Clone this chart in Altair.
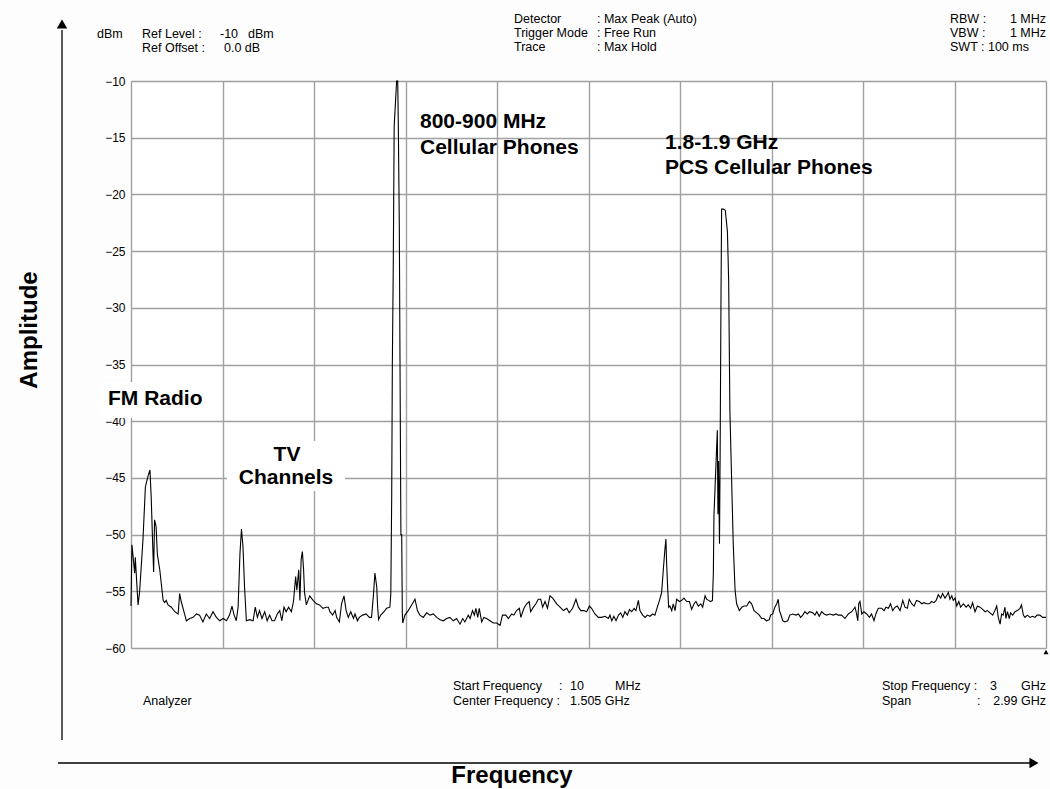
import altair as alt
import pandas as pd

# ---------------- data ----------------
freq_mhz = [
    10, 13, 17, 22, 24, 33, 38, 49, 57, 66, 72, 76, 81, 84, 87, 92, 96, 104, 115, 120,
    125, 131, 142, 153, 164, 169, 174, 183, 191, 202, 213, 224, 234, 245, 256, 267, 278, 289, 300, 311,
    322, 332, 340, 347, 354, 360, 366, 371, 376, 381, 387, 398, 409, 416, 423, 430, 438, 447, 455, 463,
    471, 479, 488, 496, 503, 510, 517, 525, 534, 541, 548, 552, 558, 562, 566, 570, 574, 577, 583, 594,
    605, 616, 626, 637, 648,
    655, 660, 669, 677, 682, 691, 698, 706, 713, 720, 728, 737, 742, 750, 756, 767, 778, 789, 796, 802,
    807, 813, 816, 819, 826, 837, 845, 856,
    859, 862, 864, 867, 870, 878, 881.5, 883.6, 886.8, 889, 892, 894.6, 896.6,
    898, 905, 916, 927, 938, 946, 954, 965, 976, 987, 998, 1009, 1020, 1031, 1041, 1052, 1063, 1074, 1085, 1094,
    1101, 1112, 1118, 1126, 1132, 1137, 1143, 1148, 1156, 1163, 1172, 1183, 1194, 1205, 1216, 1224, 1235, 1243, 1254, 1261,
    1270, 1279, 1284, 1294, 1303, 1311, 1316, 1325, 1333, 1341, 1349, 1355, 1363, 1371, 1379, 1388, 1401,
    1412, 1423, 1434, 1442, 1453, 1464, 1472, 1480, 1490, 1499, 1508, 1515, 1526, 1537, 1548, 1559, 1570, 1575, 1581, 1588,
    1595, 1603, 1610, 1617, 1624, 1632, 1639, 1646, 1654, 1660, 1668, 1673, 1682, 1690, 1697, 1706, 1715, 1722, 1730, 1737,
    1744, 1750, 1755, 1758, 1760, 1764, 1767, 1771, 1777, 1782, 1788, 1793, 1802, 1810, 1817, 1826, 1835, 1842, 1850, 1856,
    1864, 1872, 1878, 1886, 1891, 1897, 1904, 1910,
    1913, 1915, 1922, 1926, 1928, 1930, 1933, 1935, 1938, 1940, 1946, 1952, 1959, 1963, 1967, 1973, 1978, 1984, 1989, 1995,
    1998, 2006, 2013, 2022, 2031, 2038, 2046, 2055, 2063, 2071, 2078, 2087, 2096, 2100, 2107, 2114, 2120, 2125, 2129, 2133,
    2140, 2147, 2156, 2163, 2172, 2183, 2191, 2198, 2205, 2212, 2220, 2227,
    2238, 2245, 2251, 2259, 2267, 2275, 2283, 2294, 2305, 2314, 2321, 2332, 2343, 2354, 2365, 2376, 2381, 2385, 2388, 2392,
    2398, 2405, 2414, 2423, 2430, 2438, 2444, 2452, 2463, 2471, 2477, 2485, 2492, 2499, 2507, 2514, 2523, 2532, 2539, 2547,
    2553, 2561, 2569, 2577, 2586, 2594, 2601, 2610, 2619, 2626, 2634, 2641, 2648, 2656, 2662, 2670, 2675, 2681, 2686, 2692,
    2697, 2703, 2708, 2715, 2721, 2730, 2739, 2746, 2754, 2760, 2768, 2776, 2784, 2793, 2801, 2808, 2817, 2826, 2833, 2839,
    2844, 2850, 2855, 2860, 2866, 2869, 2874, 2880, 2884, 2891, 2899, 2906, 2915, 2920, 2926, 2931, 2939, 2948, 2956, 2964,
    2971, 2980, 2989, 3000,
]

level_dbm = [
    -56.3, -50.9, -52.0, -53.4, -52.0, -56.2, -55.1, -50.5, -45.8, -44.8, -44.3, -46.7, -51.0, -53.3, -48.7, -49.3, -51.7, -53.1, -55.8, -56.0,
    -55.8, -56.2, -56.4, -56.8, -57.0, -55.2, -55.9, -56.8, -57.6, -57.4, -57.3, -57.0, -57.1, -57.7, -57.0, -57.4, -56.8, -57.3, -57.6, -57.4,
    -57.6, -57.1, -56.3, -57.1, -57.6, -56.4, -51.7, -49.5, -51.1, -54.6, -57.6, -57.5, -57.6, -56.4, -57.3, -56.7, -57.4, -56.8, -57.6, -57.1,
    -57.6, -57.6, -57.0, -56.7, -57.6, -56.4, -56.8, -56.4, -56.8, -55.9, -53.7, -54.9, -53.1, -55.8, -52.2, -51.5, -53.1, -55.1, -56.2, -55.4,
    -55.8, -56.1, -56.2, -56.5, -56.4,
    -56.4, -56.8, -57.1, -56.7, -57.3, -57.7, -56.1, -55.4, -56.7, -57.3, -56.8, -57.4, -57.0, -57.6, -57.3, -57.1, -57.0, -57.3, -57.3, -55.4,
    -53.4, -54.6, -56.4, -57.5, -57.1, -56.8, -56.5, -56.4,
    -55.2, -46.4, -35.0, -26.4, -14.0, -10.0, -10.0, -14.0, -22.9, -34.6, -50.0, -50.0, -56.9,
    -57.8, -57.1, -56.7, -56.2, -55.7, -56.7, -57.1, -57.3, -56.9, -57.1, -57.0, -57.3, -57.5, -57.6, -57.4, -57.3, -57.6, -57.4, -57.9, -57.4,
    -57.7, -57.1, -57.4, -56.7, -57.1, -56.5, -57.3, -56.5, -57.7, -57.3, -57.4, -57.6, -57.8, -57.8, -58.0, -57.1, -57.1, -57.4, -57.0, -57.1,
    -56.7, -56.5, -57.3, -56.5, -56.1, -55.9, -56.8, -56.4, -56.1, -55.7, -55.7, -56.4, -55.9, -56.5, -55.4, -55.6, -56.1,
    -56.4, -56.7, -56.5, -56.9, -56.5, -55.7, -56.4, -56.7, -56.7, -56.8, -56.3, -56.5, -57.0, -57.3, -57.3, -57.2, -57.4, -57.1, -57.6, -57.2,
    -57.6, -57.1, -56.9, -57.3, -56.8, -57.1, -56.6, -56.8, -56.5, -56.7, -55.8, -56.7, -57.1, -57.3, -57.1, -57.2, -57.0, -57.1, -56.4, -55.8,
    -55.1, -52.9, -51.2, -50.4, -52.3, -54.9, -56.4, -56.3, -56.7, -56.1, -56.7, -55.7, -55.9, -55.8, -55.6, -55.9, -55.9, -56.6, -56.1, -55.9,
    -56.3, -56.1, -56.4, -55.4, -55.7, -55.8, -55.9, -55.8,
    -53.4, -48.3, -43.5, -40.8, -48.2, -43.5, -50.8, -43.5, -28.8, -21.3, -21.3, -21.4, -23.3, -27.6, -39.0, -45.5, -50.8, -54.9, -56.1, -56.5,
    -56.7, -56.4, -56.3, -56.3, -55.9, -56.1, -56.7, -56.9, -57.1, -57.4, -57.4, -57.6, -57.5, -57.1, -57.0, -56.4, -56.1, -55.7, -56.7, -57.0,
    -57.6, -57.7, -57.6, -57.1, -57.0, -57.1, -57.0, -57.3, -57.1, -56.8, -57.0, -56.8,
    -56.9, -57.1, -56.8, -57.2, -56.8, -57.0, -57.1, -57.0, -57.1, -57.0, -57.1, -57.1, -57.4, -57.0, -56.8, -56.4, -57.0, -57.6, -56.1, -55.9,
    -57.0, -56.8, -57.0, -57.3, -57.0, -57.6, -57.0, -56.5, -56.5, -56.7, -56.4, -56.5, -56.1, -56.7, -56.4, -56.3, -56.7, -55.8, -56.4, -56.5,
    -55.7, -56.1, -56.3, -55.8, -55.9, -56.1, -56.0, -56.1, -56.1, -55.9, -56.0, -55.8, -55.3, -55.6, -55.2, -55.6, -55.4, -55.1, -55.7, -55.4,
    -55.8, -55.6, -56.3, -55.9, -56.4, -56.1, -56.4, -56.2, -56.5, -56.0, -56.8, -56.3, -56.4, -56.6, -56.8, -56.7, -56.9, -57.1, -56.7, -56.3,
    -57.3, -57.9, -57.0, -57.1, -56.4, -57.4, -56.8, -57.4, -56.9, -57.1, -56.8, -56.7, -56.5, -56.2, -57.1, -57.3, -57.1, -57.3, -57.2, -57.3,
    -57.1, -57.1, -57.3, -57.3,
]

x_grid_mhz = [10, 309, 608, 907, 1206, 1505, 1804, 2103, 2402, 2701, 3000]
y_ticks_dbm = [-60, -55, -50, -45, -40, -35, -30, -25, -20, -15, -10]

# ---------------- layout ----------------
PL, PT = 131, 81          # plot origin in page pixels
W, H = 915, 567
FONT = "Liberation Sans"
GRID = "#a0a0a0"
SMALL = 12.5

trace = pd.DataFrame({"f": freq_mhz, "dbm": level_dbm})

line = alt.Chart(trace).mark_line(color="black", strokeWidth=1.1).encode(
    x=alt.X("f:Q", scale=alt.Scale(domain=[10, 3000], nice=False, zero=False),
            axis=alt.Axis(values=x_grid_mhz, labels=False, ticks=False, domain=False,
                          grid=True, gridColor=GRID, gridWidth=1.4, gridOpacity=1, title=None)),
    y=alt.Y("dbm:Q", scale=alt.Scale(domain=[-60, -10], nice=False, zero=False),
            axis=alt.Axis(values=y_ticks_dbm, ticks=False, domain=False, grid=True,
                          gridColor=GRID, gridWidth=1.4, gridOpacity=1, labelPadding=6,
                          labelFontSize=12, labelFont=FONT, labelColor="black", title=None)),
)

one = pd.DataFrame({"t": [""]})


def txt(s, x, y, size=SMALL, weight="normal", align="left", angle=None):
    kw = dict(align=align, baseline="middle", fontSize=size, fontWeight=weight,
              font=FONT, color="black")
    if angle is not None:
        kw["angle"] = angle
    return alt.Chart(pd.DataFrame({"t": [s]})).mark_text(**kw).encode(
        text="t:N", x=alt.value(x - PL), y=alt.value(y - PT))


def box(x1, y1, x2, y2):
    return alt.Chart(one).mark_rect(color="white").encode(
        x=alt.value(x1 - PL), x2=alt.value(x2 - PL),
        y=alt.value(y1 - PT), y2=alt.value(y2 - PT))


def hrule(x1, x2, y):
    return alt.Chart(one).mark_rule(color="black", strokeWidth=1.3).encode(
        x=alt.value(x1 - PL), x2=alt.value(x2 - PL), y=alt.value(y - PT))


def vrule(x, y1, y2):
    return alt.Chart(one).mark_rule(color="black", strokeWidth=1.3).encode(
        x=alt.value(x - PL), y=alt.value(y1 - PT), y2=alt.value(y2 - PT))


def tri(shape, x, y, size):
    return alt.Chart(one).mark_point(shape=shape, filled=True, color="black",
                                     opacity=1, size=size).encode(
        x=alt.value(x - PL), y=alt.value(y - PT))


layers = [
    line,
    box(100, 382, 214, 418),
    box(227, 441, 345, 491),
    # header text
    txt("dBm", 97, 34),
    txt("Ref Level :", 142, 34), txt("-10", 220, 34), txt("dBm", 248, 34),
    txt("Ref Offset :", 142, 48), txt("0.0 dB", 224, 48),
    txt("Detector", 514, 19), txt(": Max Peak (Auto)", 597, 19),
    txt("Trigger Mode", 514, 33), txt(": Free Run", 597, 33),
    txt("Trace", 514, 47), txt(": Max Hold", 597, 47),
    txt("RBW :", 950, 19), txt("1 MHz", 1046, 19, align="right"),
    txt("VBW :", 950, 33), txt("1 MHz", 1046, 33, align="right"),
    txt("SWT : 100 ms", 950, 47),
    # footer text
    txt("Analyzer", 143, 701),
    txt("Start Frequency", 453, 686), txt(":", 559, 686), txt("10", 570, 686), txt("MHz", 615, 686),
    txt("Center Frequency :", 453, 701), txt("1.505 GHz", 570, 701),
    txt("Stop Frequency :", 882, 686), txt("3", 990, 686), txt("GHz", 1046, 686, align="right"),
    txt("Span", 882, 701), txt(":", 977, 701), txt("2.99 GHz", 1046, 701, align="right"),
    # annotations
    txt("FM Radio", 108, 399, size=21, weight="bold"),
    txt("TV", 287, 455, size=21, weight="bold", align="center"),
    txt("Channels", 286, 478, size=21, weight="bold", align="center"),
    txt("800-900 MHz", 420, 122, size=21, weight="bold"),
    txt("Cellular Phones", 420, 148, size=21, weight="bold"),
    txt("1.8-1.9 GHz", 665, 143, size=21, weight="bold"),
    txt("PCS Cellular Phones", 665, 168, size=21, weight="bold"),
    txt("Amplitude", 30, 330, size=24, weight="bold", align="center", angle=270),
    txt("Frequency", 512, 776, size=24, weight="bold", align="center"),
    # arrows
    vrule(62, 30, 740),
    tri("triangle-up", 62, 24, 110),
    hrule(58, 1030, 763),
    tri("triangle-right", 1034, 763, 110),
    tri("triangle-up", 1046, 652, 25),
]

chart = alt.layer(*layers).properties(
    width=W, height=H,
    autosize=alt.AutoSizeParams(type="none"),
    padding={"left": PL, "top": PT, "right": 1050 - PL - W, "bottom": 789 - PT - H},
    background="#fdfdfd",
).configure_view(stroke=None, fill="white")

chart.save("out.html", embed_options={"renderer": "svg", "actions": False})
